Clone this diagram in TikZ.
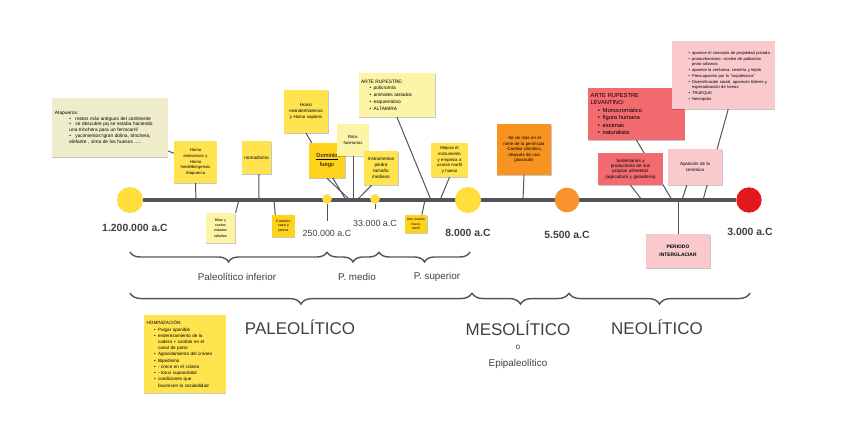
\documentclass[tikz,border=0pt]{standalone}
\usepackage{fontspec}
\setmainfont{Liberation Sans}
\usetikzlibrary{shadows,backgrounds,decorations.pathreplacing}
\definecolor{axis}{HTML}{50555C}
\definecolor{ybig}{HTML}{FFDD3A}
\definecolor{ynote}{HTML}{FFE44F}
\definecolor{ypale}{HTML}{FCF4A6}
\definecolor{ydark}{HTML}{FFD21C}
\definecolor{onote}{HTML}{F7931E}
\definecolor{ocirc}{HTML}{F7922C}
\definecolor{rcirc}{HTML}{E4181C}
\definecolor{rnote}{HTML}{F26B6F}
\definecolor{pnote}{HTML}{F9C9CC}
\definecolor{bnote}{HTML}{EFECCB}
\definecolor{lbltext}{HTML}{404040}
\hyphenpenalty=10000
\exhyphenpenalty=10000
\newcommand{\nf}[2]{\fontsize{#1pt}{#2pt}\selectfont}
\newcommand{\bul}[1][1.8em]{\par\noindent\hangindent=#1\hangafter=1\makebox[#1][r]{\textbullet\hspace{0.5em}}\ignorespaces}
\newcommand{\bulflat}[1][3em]{\par\noindent\hangindent=#1\hangafter=0\textbullet\hspace{0.9em}\ignorespaces}
\tikzset{
  note/.style={rectangle, inner sep=2pt, text=black, align=center,
               drop shadow={shadow xshift=0.3pt, shadow yshift=-1pt, opacity=0.22, fill=black}},
  notey/.style={note, fill=ynote},
  notep/.style={note, fill=ypale},
  noted/.style={note, fill=ydark},
  link/.style={draw=axis, line width=0.85pt},
  axisline/.style={draw=axis, line width=2.6pt},
  disc/.style={circle, inner sep=0pt, fill=#1},
  yearlbl/.style={text=lbltext, font=\nf{7.6}{9}},
  yearbold/.style={text=lbltext, font=\bfseries\nf{8.9}{10}},
  curly/.style={decorate, decoration={brace, mirror, amplitude=#1}, draw=axis, line width=1.2pt},
  era/.style={text=lbltext, font=\nf{14.5}{16}},
  subera/.style={text=lbltext, font=\nf{8.4}{10}},
}
\begin{document}
\begin{tikzpicture}[x=0.03cm, y=-0.03cm]
  \path[use as bounding box] (0,0) rectangle (848,443);
  % dates on the axis
  \node[disc=ybig, minimum size=0.78cm] (c1) at (130,200) {};
  \node[disc=ybig, minimum size=0.29cm] (c250) at (327,199) {};
  \node[disc=ybig, minimum size=0.29cm] (c33) at (375,199) {};
  \node[disc=ybig, minimum size=0.78cm] (c8) at (468,200) {};
  \node[disc=ocirc, minimum size=0.74cm] (c55) at (567,200) {};
  \node[disc=rcirc, minimum size=0.76cm] (c3) at (749,200) {};
  \coordinate (k250) at (327,221);
  \coordinate (k33) at (375,209);
  \node[yearbold] (l1200) at (135,228) {1.200.000 a.C};
  \node[yearlbl] (l250) at (327,233) {250.000 a.C};
  \node[yearlbl] (l33) at (375,223) {33.000 a.C};
  \node[yearbold] (l8) at (468,233) {8.000 a.C};
  \node[yearbold] (l55) at (567,235) {5.500 a.C};
  \node[yearbold] (l3) at (750,232) {3.000 a.C};
  % anchor points of the notes
  \coordinate (aAnt) at (196,200);
  \coordinate (aBif) at (239,200);
  \coordinate (aNom) at (259,200);
  \coordinate (aCaz) at (274,200);
  \coordinate (aNea) at (346,200);
  \coordinate (aDom) at (350,200);
  \coordinate (aRit) at (353,200);
  \coordinate (aIns) at (357,200);
  \coordinate (aMue) at (425,200);
  \coordinate (aArt) at (431,200);
  \coordinate (aMej) at (440,200);
  \coordinate (aOra) at (523,200);
  \coordinate (aSed) at (642,200);
  \coordinate (aLev) at (672,200);
  \coordinate (aPer) at (678,200);
  \coordinate (aApa) at (682,200);
  \coordinate (aPin) at (703,200);
  % notes
  \node[note, fill=bnote, minimum width=3.48cm, minimum height=1.77cm, text width=3.3cm,
        align=left, font=\nf{4.1}{4.9}] (atap) at (110,127.5)
    {Atapuerca:\bulflat[3em] restos más antiguos del continente\bulflat[3em] se descubre pq se estaba haciendo\newline una trinchera para un ferrocarril\bulflat[3em] yacimientos=gran dolina, trinchera,\newline elefante , sima de los huesos .....\par};
  \node[notey, minimum width=1.29cm, minimum height=1.26cm, text width=1.15cm,
        font=\nf{3.6}{4.9}] (ant) at (195.5,162)
    {Homo\\antecessor y\\Homo\\heidelbergensis\\Atapuerca};
  \node[notey, minimum width=0.87cm, minimum height=0.99cm, text width=0.75cm,
        font=\nf{4.0}{5}] (nom) at (256.5,157.5) {nomadismo};
  \node[notep, minimum width=0.87cm, minimum height=0.9cm, text width=0.75cm,
        font=\nf{3.1}{4.6}] (bif) at (220.5,228) {Bifaz y\\cantos\\rodados\\tallados};
  \node[noted, minimum width=0.69cm, minimum height=0.66cm, text width=0.6cm, inner sep=1pt,
        font=\nf{3.1}{4.2}] (caz) at (283.5,226) {Cazador,\\caza y\\pesca};
  \node[notey, minimum width=1.32cm, minimum height=1.29cm, text width=1.2cm,
        font=\nf{3.8}{5}] (nea) at (306,111.5) {Homo\\neanderthalensis\\y Homo sapiens};
  \node[noted, minimum width=1.08cm, minimum height=1.05cm, text width=0.95cm,
        font=\nf{4.9}{7}] (dom) at (327,160.5) {\underline{Dominio}\\fuego};
  \node[notep, minimum width=0.9cm, minimum height=0.96cm, text width=0.8cm,
        font=\nf{3.6}{4.6}] (rit) at (353,140) {Ritos\\funerarios};
  \node[notey, minimum width=1.02cm, minimum height=1.02cm, text width=0.9cm,
        font=\nf{3.9}{5}] (ins) at (381,168) {Instrumentos\\piedra\\tamaño\\mediano};
  \node[notep, minimum width=2.28cm, minimum height=1.32cm, text width=2.15cm,
        align=left, font=\nf{4.1}{5.8}] (art) at (397,95)
    {ARTE RUPESTRE:\bul[2.6em] policromía\bul[2.6em] animales aislados\bul[2.6em] esquemático\bul[2.6em] ALTAMIRA\par};
  \node[notey, minimum width=1.05cm, minimum height=1.02cm, text width=0.95cm,
        font=\nf{3.7}{4.9}] (mej) at (449.5,160) {Mejora el\\instrumento\\y empieza a\\usarse marfil\\y hueso};
  \node[noted, minimum width=0.66cm, minimum height=0.54cm, text width=0.6cm, inner sep=1pt,
        font=\nf{2.8}{3.8}] (mue) at (416,224) {Arte mueble\\hueso\\marfil};
  \node[note, fill=onote, minimum width=1.62cm, minimum height=1.53cm, text width=1.5cm,
        font=\nf{3.7}{4.7}] (ora) at (524,149.5)
    {-Se da más en el\\norte de la península\\-Cambio climático,\\después de una\\glaciación};
  \node[note, fill=rnote, minimum width=2.91cm, minimum height=1.56cm, text width=2.75cm,
        align=left, font=\nf{4.9}{6.4}] (lev) at (636.5,114)
    {ARTE RUPESTRE\newline LEVANTINO:\bul[2.1em] Monocromático\bul[2.1em] figura humana\bul[2.1em] escenas\bul[2.1em] naturalista\par};
  \node[note, fill=rnote, minimum width=1.89cm, minimum height=0.96cm, text width=1.8cm,
        font=\nf{3.9}{4.5}] (sed) at (630.5,169)
    {Sedentarios y\\productores de sus\\propios alimentos\\(agricultura y ganadería)};
  \node[note, fill=pnote, minimum width=1.62cm, minimum height=1.08cm, text width=1.5cm,
        font=\nf{3.8}{4.6}] (apa) at (695,167) {Aparición de la\\cerámica};
  \node[note, fill=pnote, minimum width=3.09cm, minimum height=2.04cm, text width=2.92cm,
        align=left, font=\nf{3.5}{4.9}] (pin) at (723.5,75)
    {\bul[4.2em] aparece el concepto de propiedad privada\bul[4.2em] protourbanismo --núcleo de población\newline proto-urbanos\bul[4.2em] aparece la cerámica, cestería y tejido\bul[4.2em] Preocupación por la “arquitectura”\bul[4.2em] Diversificación social, aparecen líderes y\newline especialización de tareas\bul[4.2em] TRUEQUE\bul[4.2em] Necrópolis\par};
  \node[note, fill=pnote, minimum width=1.92cm, minimum height=1.02cm, text width=1.8cm,
        font=\bfseries\nf{4.2}{7}] (per) at (678,251) {PERIODO\\INTERGLACIAR};
  \node[notey, minimum width=2.46cm, minimum height=2.34cm, text width=2.3cm,
        align=left, font=\nf{3.9}{5.3}] (hom) at (185,354)
    {HOMINIZACIÓN:\bul[2.5em] Pulgar oponible\bul[2.5em] enderezamiento de la\newline cadera + cambio en el\newline canal de parto\bul[2.5em] Agrandamiento del cráneo\bul[2.5em] Bipedismo\bul[2.5em] - crece en el cráneo\bul[2.5em] - torus supraorbital\bul[2.5em] condiciones que\newline favorecen la sociabilidad\par};
  % axis and connectors behind everything
  \begin{scope}[on background layer]
    \fill[white] (0,0) rectangle (848,443);
    \draw[axisline] (c1) -- (c3);
    \draw[link] (c250) -- (k250);
    \draw[link] (c33) -- (k33);
    \draw[link] (atap) -- (ant);
    \draw[link] (ant.south) -- (aAnt);
    \draw[link] ([xshift=2pt]nom.south) -- (aNom);
    \draw[link] (bif.north east) -- (aBif);
    \draw[link] ([xshift=-7pt]caz.north) -- (aCaz);
    \draw[link] (nea.south) -- (aNea);
    \draw[link] (dom.south) -- (aDom);
    \draw[link] (rit.south) -- (aRit);
    \draw[link] ([xshift=-8pt]ins.south) -- (aIns);
    \draw[link] (art.south) -- (aArt);
    \draw[link] (mej.south) -- (aMej);
    \draw[link] ([xshift=5pt]mue.north) -- (aMue);
    \draw[link] (ora.south) -- (aOra);
    \draw[link] (lev.south) -- (aLev);
    \draw[link] (sed.south) -- (aSed);
    \draw[link] ([xshift=-7pt]apa.south) -- (aApa);
    \draw[link] ([xshift=4pt]pin.south) -- (aPin);
    \draw[link] (per.north) -- (aPer);
  \end{scope}
  % periods
  \draw[curly=8.5pt] (130,252) -- (327,252);
  \draw[curly=8.5pt] (327,252) -- (379,252);
  \draw[curly=8.5pt] (379,252) -- (470,252);
  \node[subera] (pinf) at (237,277) {Paleolítico inferior};
  \node[subera] (pmed) at (357,277) {P. medio};
  \node[subera] (psup) at (437,277) {P. superior};
  \draw[curly=9.5pt] (130,293) -- (472,293);
  \draw[curly=9.5pt] (472,293) -- (569,293);
  \draw[curly=9.5pt] (569,293) -- (750,293);
  \node[era] (pal) at (300,327) {PALEOLÍTICO};
  \node[era] (mes) at (518,328) {MESOLÍTICO};
  \node[subera, font=\nf{7}{8}] (meso) at (518,347) {o};
  \node[subera] (epi) at (518,364) {Epipaleolítico};
  \node[era] (neo) at (657,327) {NEOLÍTICO};
\end{tikzpicture}
\end{document}
